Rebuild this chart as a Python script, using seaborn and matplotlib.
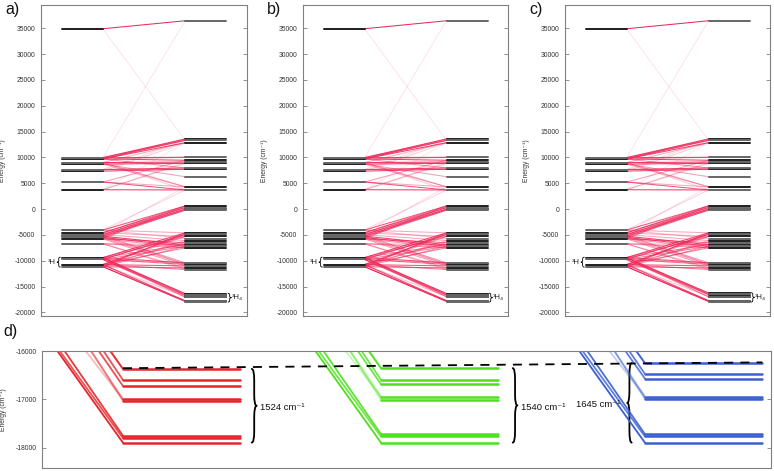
import matplotlib
matplotlib.use("Agg")
import matplotlib.pyplot as plt
import numpy as np
import pandas as pd
import seaborn as sns
from matplotlib.path import Path
from matplotlib.patches import PathPatch

# ---------------- data ----------------
left_levels = [34900, 9950, 9700, 9000, 8700, 7650, 7350, 5230, 3740,
               -4070, -4600, -4950, -5250, -5500, -5750, -6720,
               -9400, -9750, -10750, -11150]
right_levels_upper = [36450, 13570, 13310, 12850, 10020, 9450, 9100, 8850, 7950, 7700,
                      6260, 4300, 3700, 600, 300, 0, -200,
                      -4600, -4900, -5300, -5700, -6100, -6500, -6900, -7200, -7500,
                      -10400, -10700, -11000, -11400, -11700]
low_levels_a = [-16371, -16598, -16722, -16997, -17031, -17752, -17800, -17895]
low_levels_b = [-16355, -16598, -16687, -16942, -17010, -17718, -17767, -17895]
low_levels_c = [-16250, -16474, -16570, -16942, -16990, -17718, -17767, -17895]

link_left = [0, 0, 1,
             1, 1, 2, 2, 2, 3,
             1, 2, 2,
             3, 4, 3, 2,
             3, 4, 4, 3,
             5, 6, 5, 6, 5,
             7, 7, 7,
             8, 8, 8, 8,
             9, 10,
             9, 10, 10, 11, 11, 12, 12, 13, 14,
             9, 10, 11, 12, 13, 14, 14, 15, 15, 9,
             12, 13, 14, 15, 15, 11,
             16, 17, 16, 18, 19, 18,
             16, 17, 18, 19, 18, 19,
             16, 17, 18, 19, 18, 17,
             16, 16, 17, 17, 16, 18, 19, 19, 18, 17]
link_right = [0, 2, 0,
              1, 2, 2, 3, 1, 3,
              4, 5, 4,
              6, 7, 7, 8,
              11, 11, 10, 12,
              8, 9, 9, 3, 2,
              5, 12, 11,
              12, 7, 3, 6,
              12, 11,
              13, 13, 14, 14, 15, 15, 16, 16, 13,
              17, 19, 21, 23, 24, 22, 25, 25, 23, 20,
              26, 27, 28, 29, 30, 27,
              17, 18, 19, 18, 17, 19,
              23, 24, 25, 24, 22, 21,
              26, 27, 28, 29, 30, 26,
              31, 32, 33, 34, 35, 36, 37, 38, 34, 31]
link_weight = [1.0, 0.12, 0.12,
               0.9, 0.7, 0.8, 0.9, 0.5, 0.4,
               0.9, 0.9, 0.5,
               0.9, 0.9, 0.5, 0.5,
               0.45, 0.3, 0.45, 0.25,
               0.9, 0.9, 0.5, 0.25, 0.2,
               0.45, 0.8, 0.4,
               0.9, 0.3, 0.12, 0.2,
               0.2, 0.15,
               0.8, 0.7, 0.8, 0.7, 0.8, 0.7, 0.7, 0.6, 0.5,
               0.4, 0.4, 0.4, 0.9, 0.9, 0.7, 0.5, 0.5, 0.4, 0.3,
               0.5, 0.5, 0.5, 0.4, 0.35, 0.3,
               0.9, 0.9, 0.6, 0.8, 0.7, 0.5,
               0.6, 0.6, 0.6, 0.5, 0.5, 0.4,
               0.8, 0.7, 0.8, 0.8, 0.6, 0.5,
               0.9, 0.8, 0.8, 0.4, 0.4, 0.9, 0.8, 1.0, 0.3, 0.5]

gap_labels = ["1524 cm⁻¹", "1540 cm⁻¹", "1645 cm⁻¹"]
panel_labels = ["a)", "b)", "c)", "d)"]
yticks_upper = [35000, 30000, 25000, 20000, 15000, 10000, 5000, 0, -5000, -10000, -15000, -20000]
yticks_d = [-16000, -17000, -18000]
ylabel = "Energy (cm⁻¹)"
left_term = "³H"
right_term = "³H₄"

# ---------------- style ----------------
sns.set_theme(style="white")
plt.rcParams["font.family"] = ["Liberation Sans", "DejaVu Sans"]

PINK = "#ee2a5c"
DARK = "#1e1e1e"
GREY = "#666666"
SPINE = "#808080"
D_COLORS = ["#e4262c", "#4ee01c", "#3a5fd0"]
LX0, LX1, RX0, RX1 = 0.10, 0.30, 0.70, 0.90
D_SPAN = 0.32
D_XS = [(0.111, 0.272), (0.465, 0.626), (0.827, 0.988)]
N_UP = len(right_levels_upper)

W, H = 774, 471
fig = plt.figure(figsize=(W / 100, H / 100), dpi=100)


def fax(l, r, t, b):
    return fig.add_axes([l / W, 1 - b / H, (r - l) / W, (b - t) / H])


def brace(ax, x0, y0, y1, w, lw=1.0):
    ym = (y0 + y1) / 2
    d = 0.15 * (y1 - y0)
    xm = x0 + w / 2
    verts = [(x0, y1), (xm, y1), (xm, y1 - d), (xm, ym + d), (xm, ym), (x0 + w, ym),
             (xm, ym), (xm, ym - d), (xm, y0 + d), (xm, y0), (x0, y0)]
    codes = [Path.MOVETO, Path.CURVE3, Path.CURVE3, Path.LINETO, Path.CURVE3, Path.CURVE3,
             Path.CURVE3, Path.CURVE3, Path.LINETO, Path.CURVE3, Path.CURVE3]
    ax.add_patch(PathPatch(Path(verts, codes), fill=False, lw=lw, color="black",
                           capstyle="round", joinstyle="round"))


def style_axes(ax, ticks, fs=4.9):
    for s in ax.spines.values():
        s.set_visible(True)
        s.set_color(SPINE)
        s.set_linewidth(0.8)
    ax.set_xticks([])
    ax.set_yticks(ticks)
    ax.set_yticklabels([str(t) for t in ticks])
    ax.tick_params(axis="y", direction="in", length=3, width=0.6, color=SPINE,
                   labelsize=fs, labelcolor="#333333", pad=4, left=True, right=True,
                   labelleft=True, labelright=False)
    ax.set_xlabel("")


def draw_upper(ax, low_levels):
    rights = right_levels_upper + low_levels
    rows = []
    for k, (l, r, w) in enumerate(zip(link_left, link_right, link_weight)):
        rows.append(dict(seg=k, x=LX1, E=left_levels[l], w=w))
        rows.append(dict(seg=k, x=RX0, E=rights[r], w=w))
    df = pd.DataFrame(rows)
    for w, sub in df.groupby("w"):
        sns.lineplot(data=sub, x="x", y="E", units="seg", estimator=None, sort=False,
                     color=PINK, alpha=w, lw=0.75, ax=ax, legend=False)
    lv = []
    for i, e in enumerate(left_levels):
        tone = "dark" if i % 2 == 0 else "grey"
        lv += [dict(seg=f"L{i}", x=LX0, E=e, tone=tone), dict(seg=f"L{i}", x=LX1, E=e, tone=tone)]
    for i, e in enumerate(rights):
        tone = "dark" if i % 2 == 1 else "grey"
        lv += [dict(seg=f"R{i}", x=RX0, E=e, tone=tone), dict(seg=f"R{i}", x=RX1, E=e, tone=tone)]
    dl = pd.DataFrame(lv)
    sns.lineplot(data=dl, x="x", y="E", units="seg", hue="tone", estimator=None, sort=False,
                 palette={"dark": DARK, "grey": GREY}, lw=1.4, ax=ax, legend=False)
    ax.set_xlim(0, 1)
    ax.set_ylim(-20700, 39500)
    style_axes(ax, yticks_upper)
    ax.set_ylabel(ylabel, fontsize=4.9, color="#333333")
    ax.yaxis.set_label_coords(-0.172, 0.5)
    # term labels
    brace(ax, 0.094, left_levels[-1] - 80, left_levels[-4] + 80, -0.016, lw=0.6)
    ax.text(0.074, (left_levels[-1] + left_levels[-4]) / 2, left_term, ha="right",
            va="center", fontsize=5.4, color="#222222")
    brace(ax, 0.908, low_levels[-1] - 100, low_levels[0] + 60, 0.016, lw=0.6)
    ax.text(0.928, (low_levels[-1] + low_levels[0]) / 2, right_term, ha="left",
            va="center", fontsize=5.4, color="#222222")


boxes = [(41, 247), (303, 508), (565, 770)]
lows = [low_levels_a, low_levels_b, low_levels_c]
for (l, r), low, lab in zip(boxes, lows, panel_labels[:3]):
    ax = fax(l, r, 5, 316)
    draw_upper(ax, low)
    fig.text((l - 36) / W, 1 - 2 / H, lab, ha="left", va="top", fontsize=11.5, color="#111111")

# ---------------- panel d ----------------
axd = fax(42, 771, 351, 468)
for (x0, x1), low, col in zip(D_XS, lows, D_COLORS):
    rows = []
    for k, (l, r, w) in enumerate(zip(link_left, link_right, link_weight)):
        if r >= N_UP:
            rows.append(dict(seg=k, x=x0 - D_SPAN, E=left_levels[l], w=w))
            rows.append(dict(seg=k, x=x0, E=low[r - N_UP], w=w))
    df = pd.DataFrame(rows)
    for w, sub in df.groupby("w"):
        sns.lineplot(data=sub, x="x", y="E", units="seg", estimator=None, sort=False,
                     color=col, alpha=min(1.0, w), lw=1.3, ax=axd, legend=False)
    lv = []
    for i, e in enumerate(low):
        lv += [dict(seg=i, x=x0, E=e), dict(seg=i, x=x1, E=e)]
    sns.lineplot(data=pd.DataFrame(lv), x="x", y="E", units="seg", estimator=None,
                 sort=False, color=col, lw=1.8, ax=axd, legend=False)

# dashed connection of the top levels
sns.lineplot(x=[D_XS[0][0], D_XS[2][1]], y=[low_levels_a[0] + 15, low_levels_c[0] + 15],
             color="black", lw=1.3, linestyle=(0, (5, 4)), ax=axd, legend=False)

brace_x = [0.2877, 0.6457, 0.8089]
brace_w = [0.0068, 0.0064, -0.0062]
text_x = [0.2985, 0.6566, 0.793]
text_ha = ["left", "left", "right"]
for low, bx, bw, tx, ha, lab in zip(lows, brace_x, brace_w, text_x, text_ha, gap_labels):
    brace(axd, bx, low[-1], low[0], bw, lw=1.3)
    axd.text(tx, (low[0] + low[-1]) / 2 - 40, lab, ha=ha, va="center", fontsize=6.8,
             color="#111111")

axd.set_xlim(0, 1)
axd.set_ylim(-18420, -16000)
style_axes(axd, yticks_d)
axd.set_ylabel(ylabel, fontsize=4.9, color="#333333")
axd.yaxis.set_label_coords(-0.048, 0.5)
fig.text(3 / W, 1 - 324 / H, panel_labels[3], ha="left", va="top", fontsize=11.5, color="#111111")

fig.savefig("out.png", dpi=100)
